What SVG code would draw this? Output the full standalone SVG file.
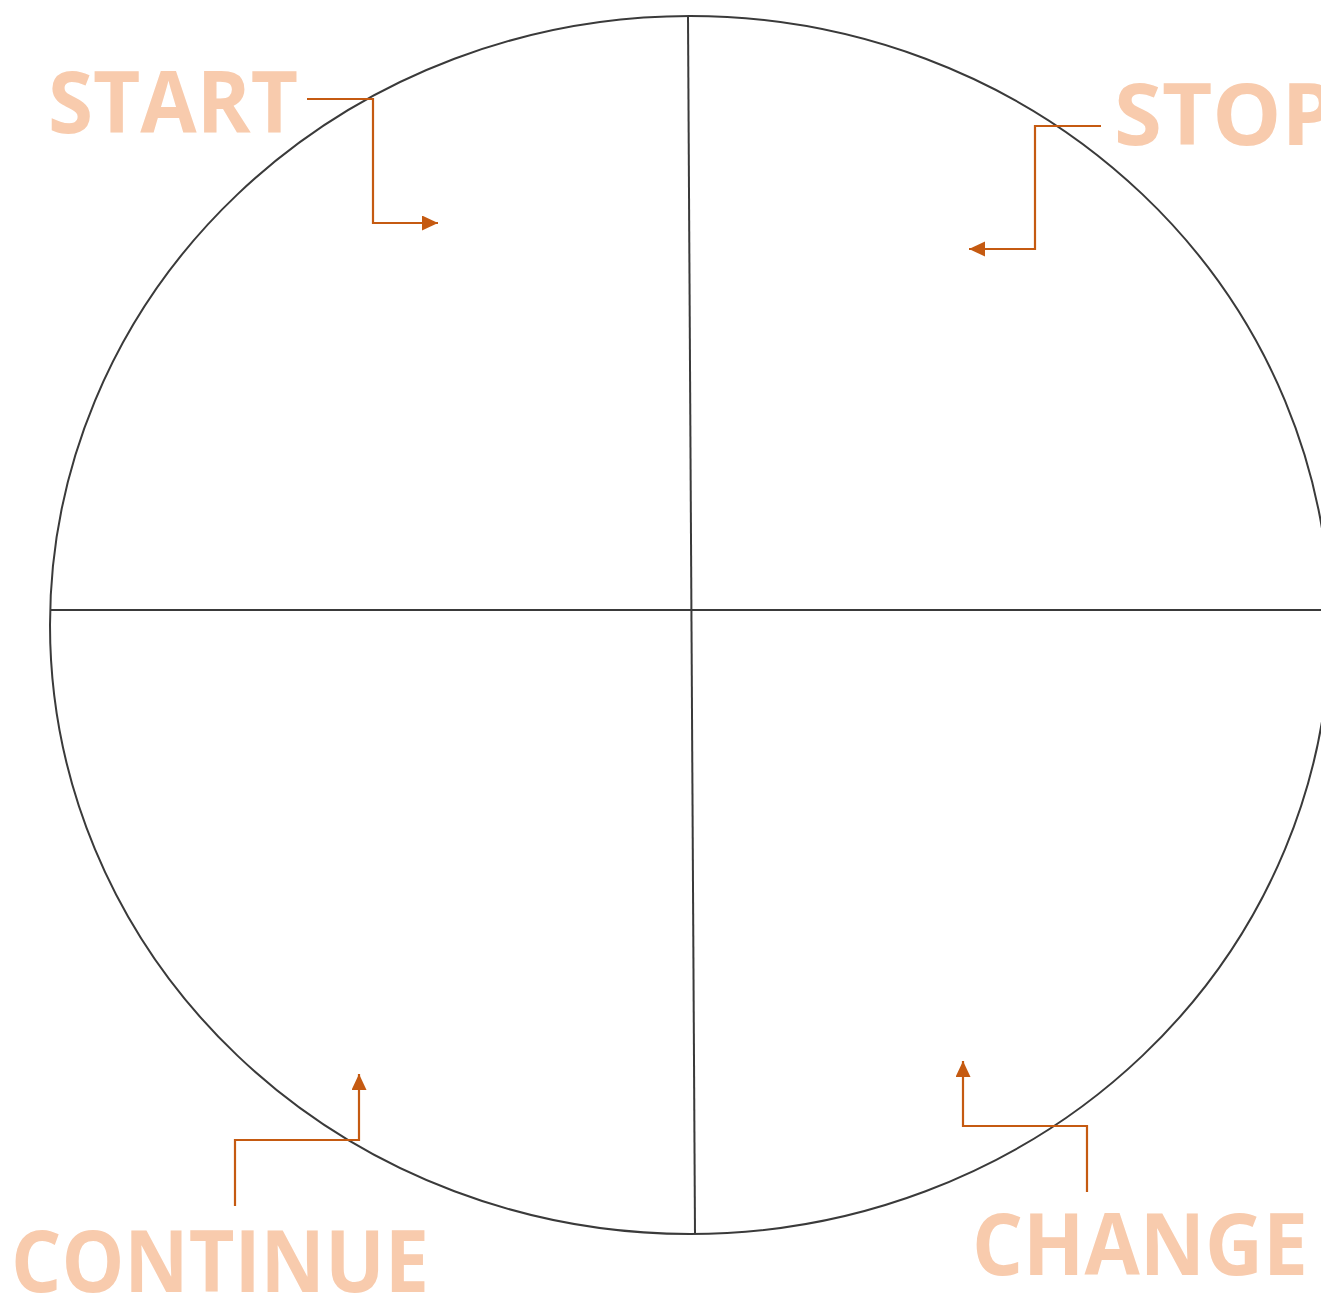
<svg xmlns="http://www.w3.org/2000/svg" width="1321" height="1293" viewBox="0 0 1321 1293">
<style>
.frame{fill:none;stroke:#3a3a3a;stroke-width:2}
.lbl{font-family:"Open Sans","Noto Sans",sans-serif;font-weight:700;fill:#F8CBAD;font-size:86px}
.conn{fill:none;stroke:#C55A11;stroke-width:2.2}
</style>
<defs>
<marker id="ah" markerUnits="userSpaceOnUse" markerWidth="18" markerHeight="16" refX="16" refY="7.5" orient="auto">
<path d="M0,0 L16,7.5 L0,15 Z" fill="#C55A11"/>
</marker>
</defs>
<rect width="1321" height="1293" fill="#ffffff"/>
<g id="circle">
<ellipse class="frame" cx="690" cy="625" rx="640" ry="609"/>
<line class="frame" x1="50" y1="610" x2="1321" y2="610"/>
<line class="frame" x1="688" y1="17" x2="695" y2="1234"/>
</g>
<g id="start"><text class="lbl" x="48" y="133" textLength="250" lengthAdjust="spacingAndGlyphs">START</text></g>
<g id="stop"><text class="lbl" x="1114" y="145" textLength="222" lengthAdjust="spacingAndGlyphs">STOP</text></g>
<g id="continue"><text class="lbl" x="11" y="1292" textLength="418" lengthAdjust="spacingAndGlyphs">CONTINUE</text></g>
<g id="change"><text class="lbl" x="972" y="1275" textLength="336" lengthAdjust="spacingAndGlyphs">CHANGE</text></g>
<g id="connectors">
<polyline class="conn" points="307,99 373,99 373,223 438,223" marker-end="url(#ah)"/>
<polyline class="conn" points="1101,126 1035,126 1035,249 969,249" marker-end="url(#ah)"/>
<polyline class="conn" points="235,1206 235,1140 359,1140 359,1074" marker-end="url(#ah)"/>
<polyline class="conn" points="1087,1192 1087,1126 963,1126 963,1061" marker-end="url(#ah)"/>
</g>
</svg>
